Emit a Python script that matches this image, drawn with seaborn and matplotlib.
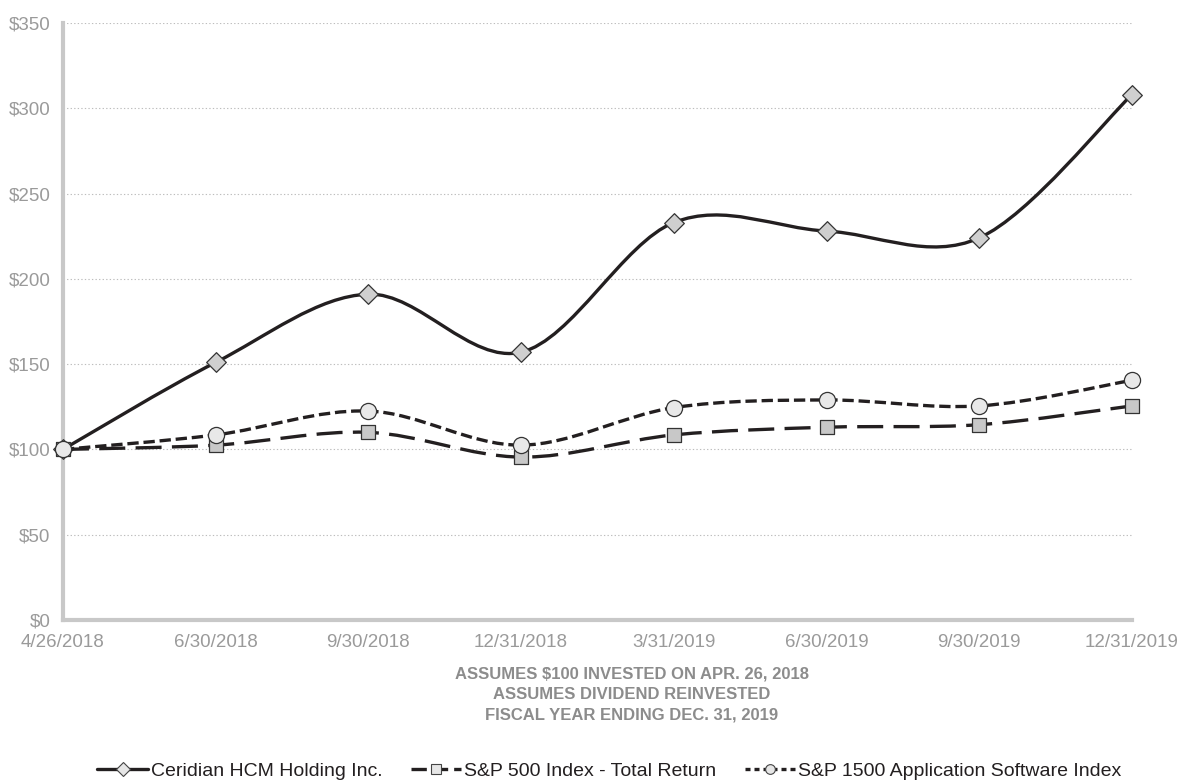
import numpy as np
import matplotlib
matplotlib.use("Agg")
import matplotlib.pyplot as plt
from matplotlib.path import Path
from matplotlib.patches import PathPatch
from matplotlib.lines import Line2D
import seaborn as sns

# ======================
# DATA
# ======================
dates = ["4/26/2018", "6/30/2018", "9/30/2018", "12/31/2018",
         "3/31/2019", "6/30/2019", "9/30/2019", "12/31/2019"]
ceridian = [100, 151, 191, 157, 233, 228, 224, 308]
sp500 = [100, 102.5, 110, 95.5, 108.5, 113, 114.5, 125.5]
sp1500_app = [100, 108.5, 122.5, 102.5, 124.5, 129, 125.5, 140.5]
yticks = [0, 50, 100, 150, 200, 250, 300, 350]
notes = ["ASSUMES $100 INVESTED ON APR. 26, 2018",
         "ASSUMES DIVIDEND REINVESTED",
         "FISCAL YEAR ENDING DEC. 31, 2019"]

sns.set_style("white")
plt.rcParams["font.family"] = ["Liberation Sans", "DejaVu Sans"]

LINE = "#231f20"
GREY_TXT = "#9a9a9a"
AXIS = "#c8c8c8"
LW = 2.4


def smooth_path(xs, ys):
    # excel-like smoothed line: cubic bezier through every point
    pts = np.column_stack([xs, ys]).astype(float)
    n = len(pts)
    verts = [pts[0]]
    codes = [Path.MOVETO]
    for i in range(n - 1):
        p0 = pts[max(i - 1, 0)]
        p1 = pts[i]
        p2 = pts[i + 1]
        p3 = pts[min(i + 2, n - 1)]
        c1 = p1 + (p2 - p0) / 6.0
        c2 = p2 - (p3 - p1) / 6.0
        verts += [c1, c2, p2]
        codes += [Path.CURVE4] * 3
    return Path(verts, codes)


# name, values, marker, fill, marker size, line dashes, legend dashes
series = [
    ("Ceridian HCM Holding Inc.", ceridian, "D", "#cfcfcf", 100, None, None),
    ("S&P 500 Index - Total Return", sp500, "s", "#c8c8c8", 115, (7.8, 3.1), (4.6, 1.8)),
    ("S&P 1500 Application Software Index", sp1500_app, "o", "#e8e8e8", 135, (3.4, 1.45), (1.5, 1.2)),
]

fig = plt.figure(figsize=(11.81, 7.82), dpi=100)
ax = fig.add_axes([0.0533, 0.2072, 0.9052, 0.7634])

x = np.arange(len(dates))
handles = []
for k, (name, vals, mk, fill, size, dash, ldash) in enumerate(series):
    patch = PathPatch(smooth_path(x, vals), facecolor="none", edgecolor=LINE,
                      lw=LW, zorder=3 + 2 * k, clip_on=False, capstyle="butt")
    if dash is not None:
        patch.set_linestyle((0, dash))
    ax.add_patch(patch)
    sns.scatterplot(x=x, y=vals, marker=mk, s=size, color=fill, edgecolor="#333333",
                    linewidth=0.9, ax=ax, zorder=4 + 2 * k, clip_on=False, legend=False)
    h = Line2D([], [], color=LINE, lw=LW, marker=mk, markersize=7,
               markerfacecolor="#e6e6e6", markeredgecolor="#444444", markeredgewidth=0.8)
    if ldash is not None:
        h.set_dashes(ldash)
    handles.append(h)

ax.set_xlim(0, len(dates) - 1)
ax.set_ylim(0, 350)
ax.set_xticks(x)
ax.set_xticklabels(dates)
ax.set_yticks(yticks)
ax.set_yticklabels([f"${v}" for v in yticks])

for v in yticks[1:]:
    ax.axhline(v, color="#bdbdbd", lw=0.8, ls=(0, (1.2, 2)), zorder=1)

for side in ["top", "right"]:
    ax.spines[side].set_visible(False)
for side in ["left", "bottom"]:
    ax.spines[side].set_color(AXIS)
    ax.spines[side].set_linewidth(3)
ax.tick_params(axis="both", colors=AXIS, labelcolor=GREY_TXT, labelsize=13.5,
               length=4, width=3, direction="out")
ax.tick_params(axis="y", pad=5)
ax.tick_params(axis="x", pad=6)

for i, line in enumerate(notes):
    fig.text(0.535, 1 - (674 + 20.5 * i) / 782, line, ha="center", va="center",
             fontsize=12, fontweight="bold", color="#8c8c8c")

fig.legend(handles, [s[0] for s in series], loc="center", bbox_to_anchor=(0.516, 1 - 771 / 782),
           ncol=3, frameon=False, fontsize=14, handlelength=2.6, handletextpad=0.15,
           columnspacing=1.45, labelcolor=LINE)

fig.savefig("out.png", dpi=100)
